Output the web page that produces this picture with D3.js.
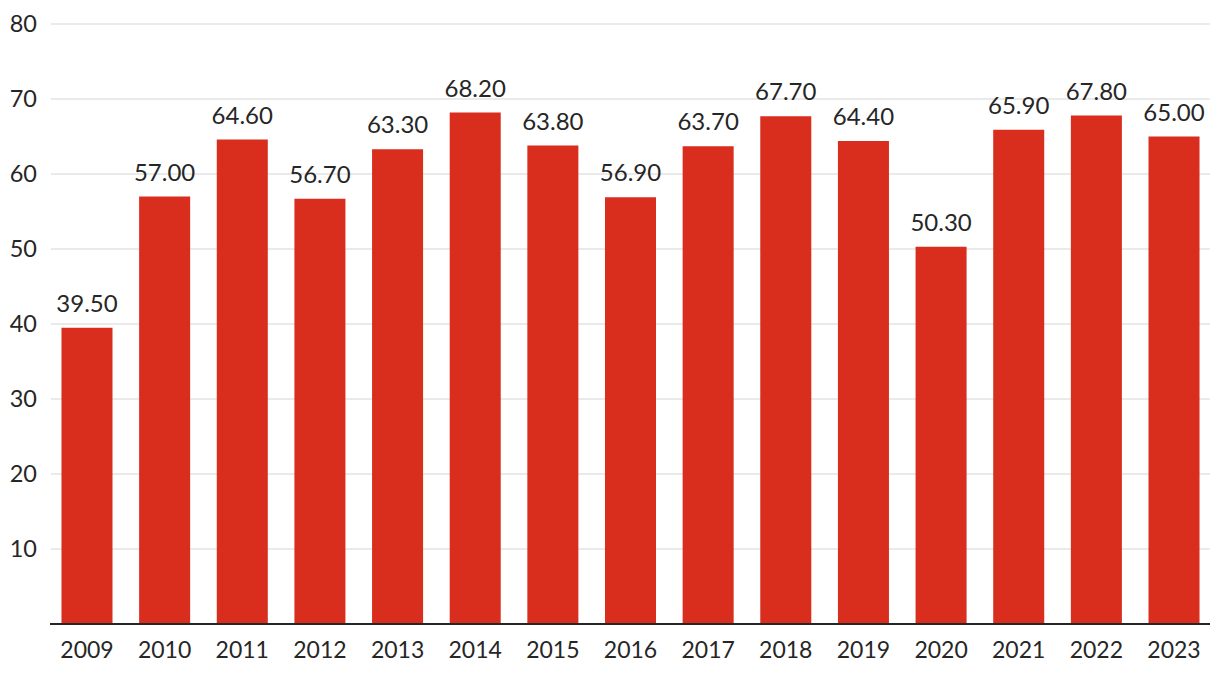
<!DOCTYPE html>
<html>
<head>
<meta charset="utf-8">
<script src="https://cdn.jsdelivr.net/npm/d3@7"></script>
<style>
  body { margin: 0; background: #fff; }
  svg text { font-family: Lato, "Open Sans", sans-serif; fill: #262626; }
</style>
</head>
<body>
<div id="chart"></div>
<script>
// Values
const years = ['2009', '2010', '2011', '2012', '2013', '2014', '2015', '2016',
               '2017', '2018', '2019', '2020', '2021', '2022', '2023'];
const values = [39.5, 57.0, 64.6, 56.7, 63.3, 68.2, 63.8, 56.9,
                63.7, 67.7, 64.4, 50.3, 65.9, 67.8, 65.0];
const yTicks = [10, 20, 30, 40, 50, 60, 70, 80];

const width = 1220;
const height = 680;
const plot = { left: 51, right: 1210, top: 24, bottom: 624 };

const svg = d3.select('#chart')
    .append('svg')
    .attr('width', width)
    .attr('height', height);

const x = d3.scaleBand()
    .domain(years)
    .range([plot.left, plot.right])
    .paddingInner(0.343)
    .paddingOuter(0.135);

const y = d3.scaleLinear()
    .domain([0, 80])
    .range([plot.bottom, plot.top]);

// Gridlines
svg.append('g')
    .selectAll('line')
    .data(yTicks)
    .join('line')
    .attr('x1', plot.left)
    .attr('x2', plot.right)
    .attr('y1', d => y(d))
    .attr('y2', d => y(d))
    .attr('stroke', '#e3e3e3')
    .attr('stroke-width', 1.5);

// Y labels
svg.append('g')
    .selectAll('text')
    .data(yTicks)
    .join('text')
    .attr('x', 37)
    .attr('y', d => y(d) + 8)
    .attr('text-anchor', 'end')
    .style('font-size', '23.5px')
    .text(d => d);

// Bars
svg.append('g')
    .selectAll('rect')
    .data(values)
    .join('rect')
    .attr('x', (d, i) => x(years[i]))
    .attr('y', d => y(d))
    .attr('width', x.bandwidth())
    .attr('height', d => y(0) - y(d))
    .attr('fill', '#d92d1e');

// Value labels
svg.append('g')
    .selectAll('text')
    .data(values)
    .join('text')
    .attr('x', (d, i) => x(years[i]) + x.bandwidth() / 2)
    .attr('y', d => y(d) - 16)
    .attr('text-anchor', 'middle')
    .style('font-size', '24px')
    .text(d => d.toFixed(2));

// Baseline
svg.append('line')
    .attr('x1', plot.left - 1)
    .attr('x2', plot.right)
    .attr('y1', y(0))
    .attr('y2', y(0))
    .attr('stroke', '#262626')
    .attr('stroke-width', 2);

// X labels
svg.append('g')
    .selectAll('text')
    .data(years)
    .join('text')
    .attr('x', d => x(d) + x.bandwidth() / 2)
    .attr('y', 658)
    .attr('text-anchor', 'middle')
    .style('font-size', '23px')
    .text(d => d);
</script>
</body>
</html>
